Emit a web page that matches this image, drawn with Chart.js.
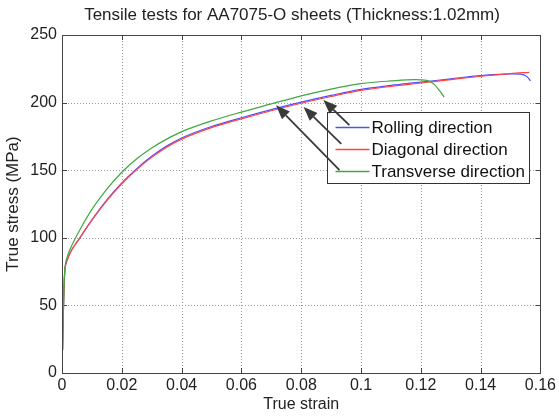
<!DOCTYPE html>
<html>
<head>
<meta charset="utf-8">
<script src="https://cdn.jsdelivr.net/npm/chart.js@4/dist/chart.umd.min.js"></script>
<style>
  html, body { margin: 0; padding: 0; background: #fff; }
  #wrap { width: 559px; height: 416px; }
</style>
</head>
<body>
<div id="wrap"><canvas id="c" width="559" height="416"></canvas></div>
<script>
const chartTitle = 'Tensile tests for AA7075-O sheets (Thickness:1.02mm)';
const xAxisTitle = 'True strain';
const yAxisTitle = 'True stress (MPa)';
const xTickValues = [0, 0.02, 0.04, 0.06, 0.08, 0.1, 0.12, 0.14, 0.16];
const yTickValues = [0, 50, 100, 150, 200, 250];
const seriesNames = ['Rolling direction', 'Diagonal direction', 'Transverse direction'];

const rollingStrain = [0.0002, 0.0004, 0.0007, 0.001, 0.0015, 0.003, 0.006, 0.01, 0.015, 0.02, 0.025, 0.03, 0.035, 0.04, 0.05, 0.06, 0.07, 0.08, 0.09, 0.1, 0.11, 0.12, 0.13, 0.14, 0.15, 0.1533, 0.1555, 0.1567];
const rollingStress = [17, 40, 65, 77, 82, 90, 100, 113.3, 128, 140.6, 151.2, 160.3, 167.8, 173.8, 182.3, 188.8, 194.8, 200.3, 205.3, 209.8, 212.7, 215.1, 217.6, 220, 221.3, 221.1, 219.2, 216];

const diagonalStrain = [0.0002, 0.0004, 0.0007, 0.001, 0.0015, 0.003, 0.006, 0.01, 0.015, 0.02, 0.025, 0.03, 0.035, 0.04, 0.05, 0.06, 0.07, 0.08, 0.09, 0.1, 0.11, 0.12, 0.13, 0.14, 0.15, 0.1563];
const diagonalStress = [17, 40, 65, 77, 82, 90, 100, 113, 127.5, 140, 150.5, 159.5, 167, 173, 181.5, 188, 194, 199.5, 204.5, 209, 212, 214.5, 217, 219.5, 221.5, 222.4];

const transverseStrain = [0.0002, 0.0004, 0.0007, 0.001, 0.0015, 0.003, 0.006, 0.01, 0.015, 0.02, 0.025, 0.03, 0.035, 0.04, 0.05, 0.06, 0.07, 0.08, 0.09, 0.1, 0.11, 0.118, 0.122, 0.1245, 0.1262, 0.1278];
const transverseStress = [17, 40, 65, 78, 84, 93, 106, 121, 136, 148.5, 158.5, 166.5, 173, 178.5, 186.5, 193, 199, 205, 210, 214, 216, 217, 216.5, 213.5, 209, 204];

// arrow annotations: [tailStrain, tailStress, headStrain, headStress]
const arrowRolling = [0.0961, 183.4, 0.0874, 201.9];
const arrowDiagonal = [0.0934, 169.4, 0.0808, 196.7];
const arrowTransverse = [0.0928, 150.1, 0.0716, 198.0];

const seriesColors = ['#4f4fff', '#ff4444', '#3fa83f'];
const FONT = '"Liberation Sans", Arial, sans-serif';

function pts(xs, ys) { return xs.map((v, i) => ({ x: v, y: ys[i] })); }

const framePlugin = {
  id: 'frame',
  beforeDatasetsDraw(chart) {
    const { ctx, chartArea: a, scales: { x, y } } = chart;
    ctx.save();
    ctx.lineWidth = 1;
    ctx.strokeStyle = '#9a9a9a';
    ctx.setLineDash([1, 2]);
    x.ticks.forEach(t => {
      const px = Math.round(x.getPixelForValue(t.value)) + 0.5;
      if (px > a.left + 2 && px < a.right - 2) {
        ctx.beginPath(); ctx.moveTo(px, a.top); ctx.lineTo(px, a.bottom); ctx.stroke();
      }
    });
    y.ticks.forEach(t => {
      const py = Math.round(y.getPixelForValue(t.value)) + 0.5;
      if (py > a.top + 2 && py < a.bottom - 2) {
        ctx.beginPath(); ctx.moveTo(a.left, py); ctx.lineTo(a.right, py); ctx.stroke();
      }
    });
    ctx.setLineDash([]);
    ctx.strokeStyle = '#444';
    const L = 5;
    x.ticks.forEach(t => {
      const px = Math.round(x.getPixelForValue(t.value)) + 0.5;
      ctx.beginPath();
      ctx.moveTo(px, a.bottom); ctx.lineTo(px, a.bottom - L);
      ctx.moveTo(px, a.top); ctx.lineTo(px, a.top + L);
      ctx.stroke();
    });
    y.ticks.forEach(t => {
      const py = Math.round(y.getPixelForValue(t.value)) + 0.5;
      ctx.beginPath();
      ctx.moveTo(a.left, py); ctx.lineTo(a.left + L, py);
      ctx.moveTo(a.right, py); ctx.lineTo(a.right - L, py);
      ctx.stroke();
    });
    ctx.restore();
  },
  afterDatasetsDraw(chart) {
    const { ctx, chartArea: a, scales: { x, y } } = chart;
    ctx.save();
    // box
    ctx.strokeStyle = '#444';
    ctx.lineWidth = 1;
    ctx.strokeRect(Math.round(a.left) + 0.5, Math.round(a.top) + 0.5, Math.round(a.right - a.left), Math.round(a.bottom - a.top));
    // title
    ctx.fillStyle = '#222';
    ctx.font = '17px ' + FONT;
    ctx.textAlign = 'center';
    ctx.textBaseline = 'middle';
    ctx.fillText(chartTitle, 292, 15);
    // legend
    const lw = 202, lh = 71;
    const lx = Math.round(a.right - 11 - lw) + 0.5, ly = Math.round(a.top + 77) + 0.5;
    ctx.fillStyle = '#fff';
    ctx.fillRect(lx, ly, lw, lh);
    ctx.strokeStyle = '#333';
    ctx.strokeRect(lx, ly, lw, lh);
    ctx.font = '17px ' + FONT;
    ctx.textAlign = 'left';
    seriesNames.forEach((n, i) => {
      const yy = ly + 15 + i * 22;
      ctx.strokeStyle = seriesColors[i];
      ctx.lineWidth = 1.3;
      ctx.beginPath(); ctx.moveTo(lx + 8, yy); ctx.lineTo(lx + 42, yy); ctx.stroke();
      ctx.fillStyle = '#111';
      ctx.fillText(n, lx + 44, yy + 1);
    });
    // arrows
    [arrowRolling, arrowDiagonal, arrowTransverse].forEach(arw => {
      const x0 = x.getPixelForValue(arw[0]), y0 = y.getPixelForValue(arw[1]);
      const x1 = x.getPixelForValue(arw[2]), y1 = y.getPixelForValue(arw[3]);
      const ang = Math.atan2(y1 - y0, x1 - x0);
      const hl = 14, hw = 5.5;
      const bx = x1 - hl * Math.cos(ang), by = y1 - hl * Math.sin(ang);
      ctx.strokeStyle = '#3a3a3a';
      ctx.fillStyle = '#3a3a3a';
      ctx.lineWidth = 1.8;
      ctx.beginPath(); ctx.moveTo(x0, y0); ctx.lineTo(bx, by); ctx.stroke();
      ctx.beginPath();
      ctx.moveTo(x1, y1);
      ctx.lineTo(bx + hw * Math.sin(ang), by - hw * Math.cos(ang));
      ctx.lineTo(bx - hw * Math.sin(ang), by + hw * Math.cos(ang));
      ctx.closePath(); ctx.fill();
    });
    ctx.restore();
  }
};

new Chart(document.getElementById('c'), {
  type: 'scatter',
  data: {
    datasets: [
      { label: seriesNames[2], data: pts(transverseStrain, transverseStress), borderColor: seriesColors[2] },
      { label: seriesNames[1], data: pts(diagonalStrain, diagonalStress), borderColor: seriesColors[1] },
      { label: seriesNames[0], data: pts(rollingStrain, rollingStress), borderColor: seriesColors[0] }
    ].map(d => Object.assign(d, { showLine: true, pointRadius: 0, borderWidth: 1.2, cubicInterpolationMode: 'monotone', fill: false }))
  },
  options: {
    responsive: false,
    animation: false,
    devicePixelRatio: 1,
    layout: { padding: { top: 35, right: 18, left: 0, bottom: 0 } },
    plugins: { legend: { display: false }, title: { display: false }, tooltip: { enabled: false } },
    scales: {
      x: {
        type: 'linear', min: 0, max: 0.16,
        afterBuildTicks: s => { s.ticks = xTickValues.map(v => ({ value: v })); },
        afterFit: s => { s.height = 43; },
        grid: { display: false, drawTicks: false },
        border: { display: false },
        ticks: {
          autoSkip: false, maxRotation: 0, padding: 3, color: '#222',
          font: { family: FONT, size: 16 },
          callback: v => String(Number(v.toFixed(2)))
        },
        title: { display: true, text: xAxisTitle, color: '#222', font: { family: FONT, size: 16 }, padding: { top: 0, bottom: 2 } }
      },
      y: {
        type: 'linear', min: 0, max: 250,
        afterBuildTicks: s => { s.ticks = yTickValues.map(v => ({ value: v })); },
        afterFit: s => { s.width = 62; },
        grid: { display: false, drawTicks: false },
        border: { display: false },
        ticks: {
          autoSkip: false, padding: 5, color: '#222',
          font: { family: FONT, size: 16 },
          callback: v => String(v)
        },
        title: { display: true, text: yAxisTitle, color: '#222', font: { family: FONT, size: 17 }, padding: { top: 3, bottom: 0 } }
      }
    }
  },
  plugins: [framePlugin]
});
</script>
</body>
</html>
